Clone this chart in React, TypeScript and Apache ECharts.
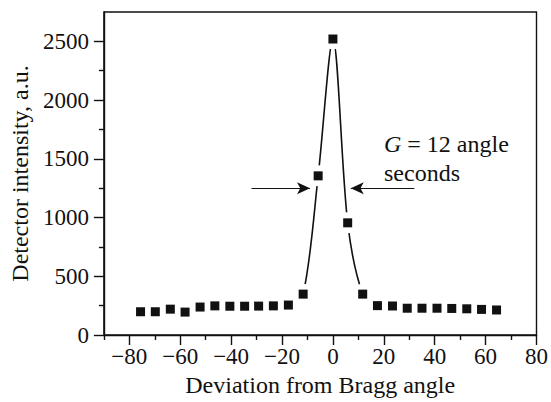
import React, { useEffect, useRef } from "react";
import * as echarts from "echarts";

const deviation = [
  -75.6, -69.8, -63.9, -58.1, -52.2, -46.4, -40.5, -34.7, -29.2, -23.4, -17.5, -11.7, -5.8,
  0, 5.8, 11.7, 17.5, 23.4, 29.2, 35.0, 40.9, 46.7, 52.6, 58.4, 64.3,
];
const intensity = [
  198, 198, 220, 195, 238, 248, 245, 245, 246, 248, 255, 348, 1355,
  2520, 955, 348, 250, 247, 228, 228, 228, 226, 223, 218, 213,
];
const xMajorTicks = [-80, -60, -40, -20, 0, 20, 40, 60, 80];
const xMinorTicks = [-90, -70, -50, -30, -10, 10, 30, 50, 70];
const yMajorTicks = [0, 500, 1000, 1500, 2000, 2500];
const yMinorTicks = [250, 750, 1250, 1750, 2250];
const arrowLeft = [[-32, 1250], [-9, 1250]];
const arrowRight = [[32, 1250], [7, 1250]];

const FONT = '"Liberation Serif", "Times New Roman", serif';
const INK = "#111111";

export default function App() {
  const ref = useRef<HTMLDivElement>(null);
  useEffect(() => {
    if (!ref.current) return;
    const chart = echarts.init(ref.current, undefined, { renderer: "svg" });
    const pts = deviation.map((x, i) => [x, intensity[i]]);
    const fmtX = (v: number) => (v < 0 ? "\u2212" + Math.abs(v) : String(v));
    const fmtY = (v: number) => String(v);
    const axisLine = { show: true, onZero: false, lineStyle: { color: INK, width: 1.4 } };
    const tickStyle = { color: INK, width: 1.4 };
    chart.setOption({
      animation: false,
      backgroundColor: "#fff",
      grid: {
        left: 102,
        right: 12,
        top: 12,
        bottom: 66,
        show: true,
        borderColor: INK,
        borderWidth: 1.4,
        backgroundColor: "transparent",
      },
      xAxis: [
        {
          type: "value",
          min: -90,
          max: 80,
          position: "bottom",
          name: "Deviation from Bragg angle",
          nameLocation: "middle",
          nameGap: 38,
          nameTextStyle: { fontFamily: FONT, fontSize: 24, color: INK },
          axisLine,
          axisTick: { show: true, length: 10, customValues: xMajorTicks, lineStyle: tickStyle },
          axisLabel: {
            customValues: xMajorTicks,
            formatter: fmtX,
            fontFamily: FONT,
            fontSize: 23,
            color: INK,
            margin: 10,
          },
          splitLine: { show: false },
        },
        {
          type: "value",
          min: -90,
          max: 80,
          position: "bottom",
          axisLine: { show: false, onZero: false },
          axisTick: { show: true, length: 5, customValues: xMinorTicks, lineStyle: tickStyle },
          axisLabel: { show: false },
          splitLine: { show: false },
        },
      ],
      yAxis: [
        {
          type: "value",
          min: 0,
          max: 2750,
          position: "left",
          name: "Detector intensity, a.u.",
          nameLocation: "middle",
          nameRotate: 90,
          nameGap: 69,
          nameTextStyle: { fontFamily: FONT, fontSize: 24, color: INK },
          axisLine,
          axisTick: { show: true, length: 10, customValues: yMajorTicks, lineStyle: tickStyle },
          axisLabel: {
            customValues: yMajorTicks,
            formatter: fmtY,
            fontFamily: FONT,
            fontSize: 23,
            color: INK,
            margin: 15,
          },
          splitLine: { show: false },
        },
        {
          type: "value",
          min: 0,
          max: 2750,
          position: "left",
          axisLine: { show: false, onZero: false },
          axisTick: { show: true, length: 5, customValues: yMinorTicks, lineStyle: tickStyle },
          axisLabel: { show: false },
          splitLine: { show: false },
        },
      ],
      series: [
        {
          type: "line",
          data: pts,
          smooth: 0.3,
          symbol: "none",
          lineStyle: { color: INK, width: 1.6 },
          z: 2,
          silent: true,
        },
        {
          type: "scatter",
          data: pts,
          symbol: "circle",
          symbolSize: 21,
          itemStyle: { color: "#fff", opacity: 1 },
          z: 3,
          silent: true,
        },
        {
          type: "scatter",
          data: pts,
          symbol: "rect",
          symbolSize: 9,
          itemStyle: { color: INK, opacity: 1 },
          z: 4,
          silent: true,
          markLine: {
            silent: true,
            symbol: ["none", "arrow"],
            symbolSize: [9, 13],
            label: { show: false },
            lineStyle: { color: INK, width: 1, type: "solid", opacity: 1 },
            data: [
              [{ coord: arrowLeft[0] }, { coord: arrowLeft[1] }],
              [{ coord: arrowRight[0] }, { coord: arrowRight[1] }],
            ],
          },
        },
      ],
      graphic: [
        {
          type: "text",
          x: 384,
          y: 129,
          z: 10,
          style: {
            text: "{g|G} = 12 angle\nseconds",
            fontFamily: FONT,
            fontSize: 24,
            lineHeight: 29,
            fill: INK,
            rich: {
              g: { fontFamily: FONT, fontSize: 24, fontStyle: "italic", fill: INK, lineHeight: 29 },
            },
          },
        },
      ],
    });
    return () => chart.dispose();
  }, []);
  return (
    <div
      ref={ref}
      style={{ position: "absolute", left: 0, top: 0, width: 551, height: 402 }}
    />
  );
}
